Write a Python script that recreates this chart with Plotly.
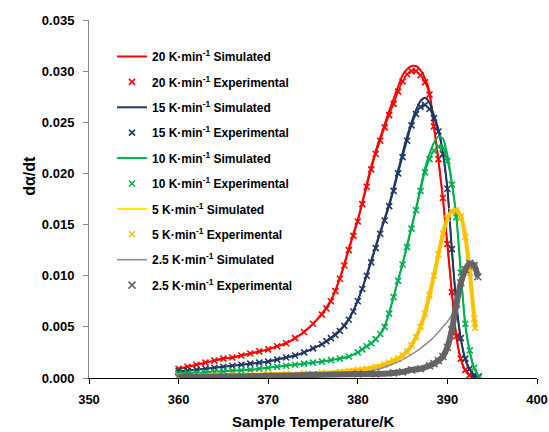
import plotly.graph_objects as go

# ---------------- data ----------------
T20 = [360, 361, 362, 363, 364, 365, 366, 367, 368, 369, 370, 371, 372, 373, 374, 375, 376,
       376.5, 377, 377.5, 378, 378.5, 379, 379.5, 380, 380.5, 381, 381.5, 382, 382.5, 383, 383.5,
       384, 384.5, 385, 385.5, 386, 386.5, 387, 387.5, 388, 388.5, 389, 389.5, 390, 390.5, 391,
       391.5, 392, 392.5, 393]
sim20 = [0.0009, 0.0011, 0.0013, 0.0015, 0.0017, 0.0019, 0.0020, 0.0022, 0.0024, 0.0026, 0.0028,
         0.0031, 0.0034, 0.0039, 0.0045, 0.0053, 0.0063, 0.0069, 0.0076, 0.0086, 0.0098, 0.0112,
         0.0127, 0.0141, 0.0155, 0.0172, 0.0190, 0.0207, 0.0222, 0.0235, 0.0248, 0.0261, 0.0273,
         0.0285, 0.0296, 0.0302, 0.0305, 0.0305, 0.0301, 0.0293, 0.0280, 0.0245, 0.0213, 0.0175,
         0.0130, 0.0083, 0.0040, 0.0018, 0.0007, 0.0002, 0.0000]
exp20 = [0.0009, 0.0011, 0.0013, 0.0015, 0.0017, 0.0019, 0.0020, 0.0022, 0.0024, 0.0026, 0.0028,
         0.0031, 0.0034, 0.0039, 0.0045, 0.0053, 0.0062, 0.0068, 0.0075, 0.0085, 0.0097, 0.0110,
         0.0125, 0.0139, 0.0153, 0.0170, 0.0187, 0.0204, 0.0219, 0.0232, 0.0245, 0.0257, 0.0268,
         0.0280, 0.0290, 0.0297, 0.0300, 0.0300, 0.0296, 0.0289, 0.0277, 0.0246, 0.0214, 0.0176,
         0.0131, 0.0084, 0.0041, 0.0019, 0.0008, 0.0003, 0.0001]

T15 = [360, 361, 362, 363, 364, 365, 366, 367, 368, 369, 370, 371, 372, 373, 374, 375, 376,
       376.5, 377, 377.5, 378, 378.5, 379, 379.5, 380, 380.5, 381, 381.5, 382, 382.5, 383, 383.5,
       384, 384.5, 385, 385.5, 386, 386.5, 387, 387.5, 388, 388.5, 389, 389.5, 390, 390.5, 391,
       391.5, 392, 392.5, 393, 393.5]
sim15 = [0.0007, 0.0007, 0.0008, 0.0009, 0.0010, 0.0011, 0.0012, 0.0013, 0.0014, 0.0015, 0.0016,
         0.0018, 0.0020, 0.0022, 0.0025, 0.0029, 0.0033, 0.0036, 0.0039, 0.0043, 0.0047, 0.0052,
         0.0058, 0.0066, 0.0076, 0.0088, 0.0101, 0.0115, 0.0129, 0.0143, 0.0156, 0.0170, 0.0186,
         0.0203, 0.0220, 0.0236, 0.0250, 0.0262, 0.0271, 0.0274, 0.0269, 0.0257, 0.0243, 0.0220,
         0.0185, 0.0125, 0.0072, 0.0038, 0.0018, 0.0008, 0.0002, 0.0000]
exp15 = [0.0007, 0.0007, 0.0008, 0.0009, 0.0010, 0.0011, 0.0012, 0.0013, 0.0014, 0.0015, 0.0016,
         0.0018, 0.0020, 0.0022, 0.0025, 0.0029, 0.0033, 0.0036, 0.0039, 0.0042, 0.0046, 0.0051,
         0.0057, 0.0065, 0.0075, 0.0087, 0.0100, 0.0113, 0.0127, 0.0141, 0.0154, 0.0168, 0.0183,
         0.0200, 0.0216, 0.0232, 0.0247, 0.0258, 0.0265, 0.0267, 0.0263, 0.0254, 0.0241, 0.0219,
         0.0185, 0.0126, 0.0073, 0.0039, 0.0019, 0.0009, 0.0003, 0.0001]

T10 = [360, 361, 362, 363, 364, 365, 366, 367, 368, 369, 370, 371, 372, 373, 374, 375, 376, 377,
       378, 379, 380, 380.5, 381, 381.5, 382, 382.5, 383, 383.5, 384, 384.5, 385, 385.5, 386,
       386.5, 387, 387.5, 388, 388.5, 389, 389.5, 390, 390.5, 391, 391.5, 392, 392.5, 393, 393.5]
sim10 = [0.00045, 0.00048, 0.0005, 0.00055, 0.0006, 0.00065, 0.0007, 0.00075, 0.0008, 0.0009,
         0.0010, 0.0011, 0.0012, 0.0013, 0.0014, 0.0015, 0.0016, 0.00175, 0.0019, 0.0021, 0.0025,
         0.0028, 0.0031, 0.0034, 0.0038, 0.0043, 0.0051, 0.0064, 0.0080, 0.0096, 0.0112, 0.0130,
         0.0148, 0.0166, 0.0186, 0.0205, 0.0219, 0.0230, 0.0236, 0.0234, 0.0218, 0.0191, 0.0158,
         0.0102, 0.0051, 0.0025, 0.0009, 0.0001]
exp10 = [0.00045, 0.00048, 0.0005, 0.00055, 0.0006, 0.00065, 0.0007, 0.00075, 0.0008, 0.0009,
         0.0010, 0.0011, 0.0012, 0.0013, 0.0014, 0.0015, 0.0016, 0.00175, 0.0019, 0.0021, 0.0025,
         0.0028, 0.0031, 0.0034, 0.0038, 0.0043, 0.0050, 0.0063, 0.0079, 0.0095, 0.0111, 0.0128,
         0.0146, 0.0164, 0.0183, 0.0201, 0.0214, 0.0222, 0.0226, 0.0225, 0.0212, 0.0189, 0.0157,
         0.0103, 0.0053, 0.0027, 0.0010, 0.0002]

T5 = [360, 362, 364, 366, 368, 370, 372, 374, 376, 378, 379, 380, 381, 382, 383, 383.5, 384,
      384.5, 385, 385.5, 386, 386.5, 387, 387.5, 388, 388.5, 389, 389.5, 390, 390.5, 391, 391.5,
      392, 392.5, 393, 393.1]
sim5 = [0.0002, 0.0002, 0.0003, 0.0003, 0.0003, 0.0004, 0.0004, 0.00045, 0.0005, 0.0006, 0.0007,
        0.0008, 0.0009, 0.0011, 0.0013, 0.0015, 0.0017, 0.0019, 0.0022, 0.0026, 0.0032, 0.0040,
        0.0050, 0.0063, 0.0081, 0.0100, 0.0121, 0.0141, 0.0156, 0.0163, 0.0164, 0.0158, 0.0138,
        0.0103, 0.0060, 0.0050]
exp5 = [0.0002, 0.0002, 0.0003, 0.0003, 0.0003, 0.0004, 0.0004, 0.00045, 0.0005, 0.0006, 0.0007,
        0.0008, 0.0009, 0.0011, 0.0013, 0.0015, 0.0017, 0.0019, 0.0022, 0.0026, 0.0032, 0.0040,
        0.0050, 0.0063, 0.0081, 0.0100, 0.0121, 0.0141, 0.0156, 0.0163, 0.0164, 0.0158, 0.0138,
        0.0103, 0.0058, 0.0049]

T25 = [360, 365, 370, 375, 380, 382, 384, 385, 386, 387, 388, 388.5, 389, 389.5, 390, 390.5, 391,
       391.5, 392, 392.5, 393, 393.4]
sim25 = [0.0001, 0.00015, 0.0002, 0.0003, 0.0005, 0.0008, 0.0014, 0.0018, 0.0023, 0.0029, 0.0036,
         0.0040, 0.0045, 0.0050, 0.0055, 0.0062, 0.0074, 0.0089, 0.0103, 0.0111, 0.0108, 0.0096]
exp25 = [0.0001, 0.00015, 0.0002, 0.0003, 0.0004, 0.0004, 0.0005, 0.0006, 0.0008, 0.0009, 0.0012,
         0.0014, 0.0017, 0.0021, 0.0030, 0.0047, 0.0072, 0.0093, 0.0106, 0.0112, 0.0110, 0.0099]

rates = ["20", "15", "10", "5", "2.5"]
temps = [T20, T15, T10, T5, T25]
sims = [sim20, sim15, sim10, sim5, sim25]
exps = [exp20, exp15, exp10, exp5, exp25]

x_ticks = [350, 360, 370, 380, 390, 400]
y_ticks = [0.000, 0.005, 0.010, 0.015, 0.020, 0.025, 0.030, 0.035]

# ---------------- styles ----------------
sim_colors = ["#FF0000", "#1F3864", "#00B050", "#FFE600", "#8C8C8C"]
exp_colors = ["#FF0000", "#1F3864", "#00B050", "#FFC000", "#646464"]
band_widths = [1.5, 1.5, 1.5, 4, 6]
sim_widths = [2, 2, 2, 2, 1.5]
marker_sizes = [6, 6, 6, 6, 7]

FONT = "Liberation Sans, Arial, sans-serif"

fig = go.Figure()
for i, r in enumerate(rates):
    fig.add_trace(go.Scatter(
        x=temps[i], y=sims[i], mode="lines",
        line=dict(color=sim_colors[i], width=sim_widths[i], shape="spline", smoothing=0.6),
        name=f"{r} K·min<sup>-1</sup> Simulated", legendgroup=f"s{r}", legendrank=10 * i + 1))
    fig.add_trace(go.Scatter(
        x=temps[i], y=exps[i], mode="lines",
        line=dict(color=exp_colors[i], width=band_widths[i], shape="spline", smoothing=0.6),
        showlegend=False, hoverinfo="skip", legendgroup=f"e{r}"))
    fig.add_trace(go.Scatter(
        x=temps[i], y=exps[i], mode="markers",
        marker=dict(symbol="x-thin-open", size=marker_sizes[i], color=exp_colors[i],
                    line=dict(color=exp_colors[i], width=1.6)),
        name=f"{r} K·min<sup>-1</sup> Experimental", legendgroup=f"e{r}", legendrank=10 * i + 2))

L, R, T, B = 89, 12, 20, 53.5
W, H = 549, 432
pw = W - L - R
ph = H - T - B

fig.update_layout(
    width=W, height=H,
    margin=dict(l=L, r=R, t=T, b=B, autoexpand=False),
    paper_bgcolor="white", plot_bgcolor="white",
    font=dict(family=FONT, color="black"),
    showlegend=True,
    legend=dict(x=(112 - L) / pw, y=1 - (42 - T) / ph, xanchor="left", yanchor="top",
                bgcolor="rgba(0,0,0,0)", traceorder="grouped", tracegroupgap=6.4,
                font=dict(family=FONT, size=12, color="black", weight="bold"),
                itemwidth=30),
    xaxis=dict(range=[350, 400], tickvals=x_ticks, ticks="outside", ticklen=5, tickcolor="#000000",
               showline=True, linecolor="#000000", linewidth=1, showgrid=False, zeroline=False,
               automargin=False,
               tickfont=dict(family=FONT, size=13, color="black", weight="bold"), ticklabelstandoff=4),
    yaxis=dict(range=[0, 0.035], tickvals=y_ticks, tickformat=".3f", ticks="outside", ticklen=5,
               tickcolor="#868686", showline=True, linecolor="#868686", linewidth=1, showgrid=False,
               zeroline=False, automargin=False,
               tickfont=dict(family=FONT, size=13, color="black", weight="bold"),
               ticklabelstandoff=6),
    annotations=[
        dict(text="dα/dt", xref="paper", yref="paper", x=(30 - L) / pw, y=1 - (176 - T) / ph,
             xanchor="center", yanchor="middle", textangle=-90, showarrow=False,
             font=dict(family=FONT, size=16, color="black", weight="bold")),
        dict(text="Sample Temperature/K", xref="paper", yref="paper", x=(313 - L) / pw,
             y=1 - (422 - T) / ph, xanchor="center", yanchor="middle", showarrow=False,
             font=dict(family=FONT, size=15, color="black", weight="bold")),
    ],
)

fig.write_html("out.html")
